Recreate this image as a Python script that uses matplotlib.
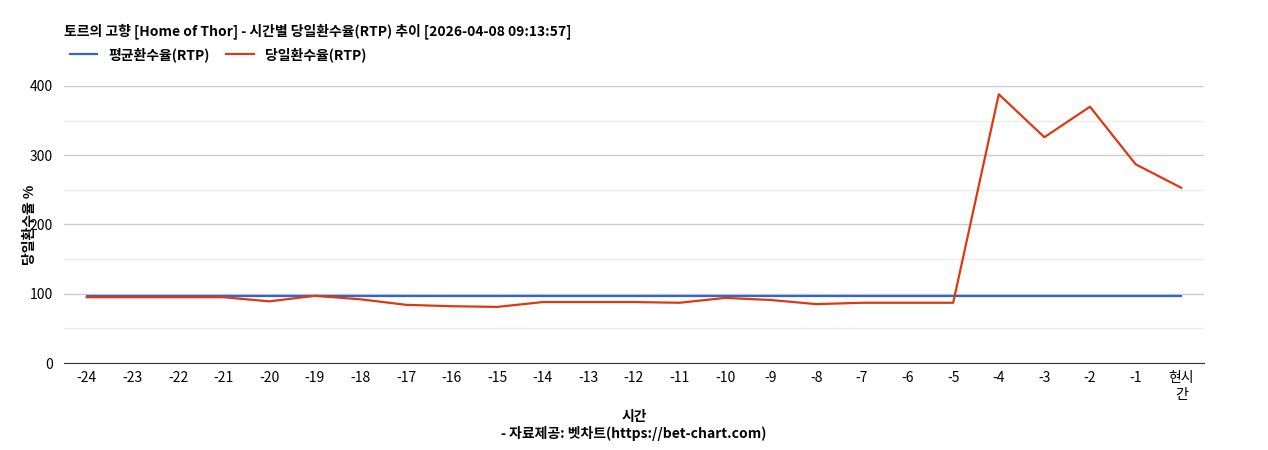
import matplotlib.pyplot as plt
import numpy as np

plt.rcParams['font.family'] = ['Noto Sans CJK KR', 'DejaVu Sans']

labels = [str(i) for i in range(-24, 0)] + ["현시\n간"]
avg_rtp = [97] * 25
day_rtp = [95, 95, 95, 95, 89, 97, 92, 84, 82, 81, 88, 88, 88, 87, 94, 91, 85, 87, 87, 87,
           388, 326, 370, 287, 253]

fig = plt.figure(figsize=(12.68, 4.5), dpi=100)
ax = fig.add_axes([0.0505, 0.1933, 0.899, 0.6157])
x = np.arange(len(labels))
ax.plot(x, avg_rtp, color="#3366cc", lw=1.6, label="평균환수율(RTP)")
ax.plot(x, day_rtp, color="#dc3912", lw=1.6, label="당일환수율(RTP)")

ax.set_xlim(-0.5, len(labels) - 0.5)
ax.set_ylim(0, 400)
ax.set_yticks([0, 100, 200, 300, 400])
ax.set_yticks([50, 150, 250, 350], minor=True)
ax.grid(axis="y", which="major", color="#cccccc", lw=1)
ax.grid(axis="y", which="minor", color="#ebebeb", lw=1)
ax.set_axisbelow(True)
ax.set_xticks(x)
ax.set_xticklabels(labels, fontsize=10)
ax.tick_params(axis="both", which="both", length=0, labelsize=10)
ax.tick_params(axis="x", pad=6)
ax.tick_params(axis="y", pad=8)
for s in ["top", "right", "left"]:
    ax.spines[s].set_visible(False)
ax.spines["bottom"].set_color("#333333")

ax.set_ylabel("당일환수율 %", fontsize=10, fontweight="bold", labelpad=2)
ax.yaxis.set_label_coords(-0.024, 0.5)
ax.set_xlabel("시간\n- 자료제공: 벳차트(https://bet-chart.com)", fontsize=10, fontweight="bold", labelpad=6)

fig.text(0.0505, 0.93, "토르의 고향 [Home of Thor] - 시간별 당일환수율(RTP) 추이 [2026-04-08 09:13:57]",
         fontsize=10, fontweight="bold", va="center")
fig.legend(loc="center left", bbox_to_anchor=(0.045, 0.878), ncol=2, frameon=False,
           prop={"weight": "bold", "size": 10}, handlelength=2, columnspacing=1.2)

fig.savefig("out.png", dpi=100)
